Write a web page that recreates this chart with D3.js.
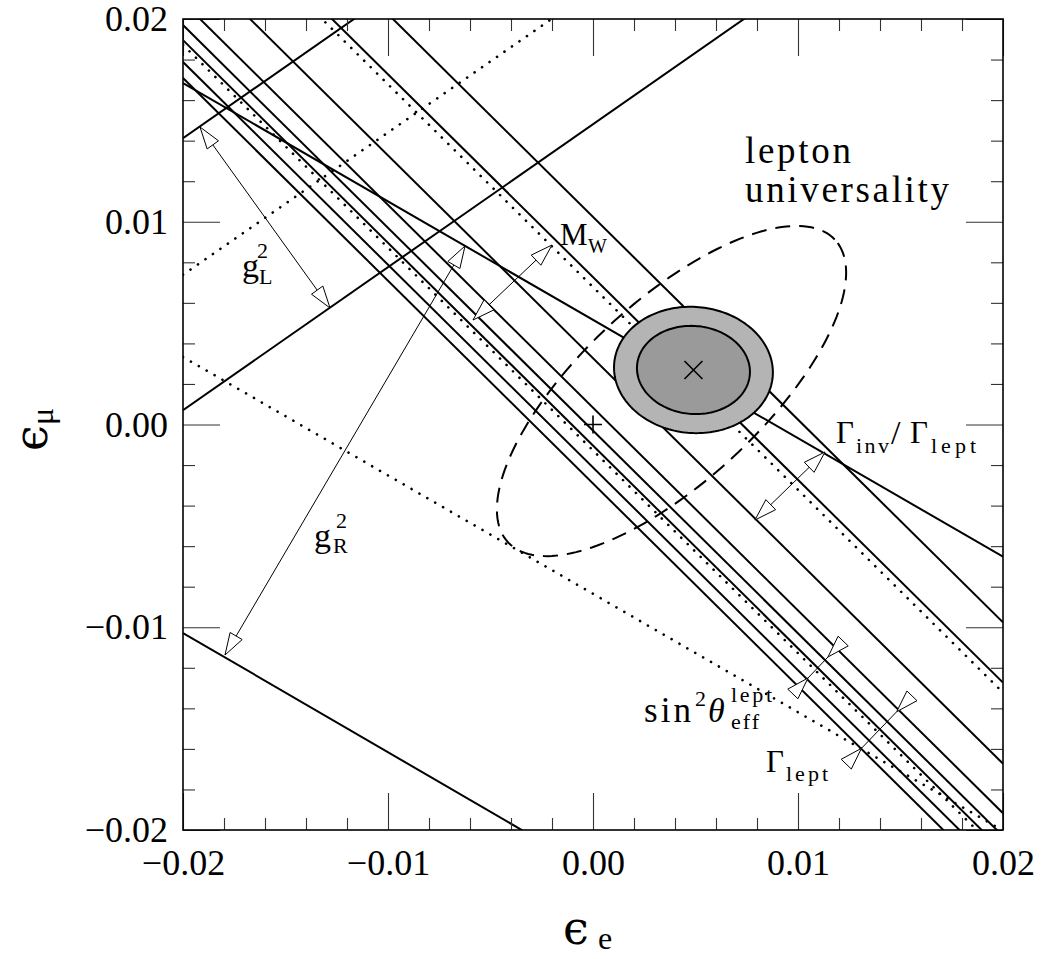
<!DOCTYPE html>
<html><head><meta charset="utf-8">
<script src="https://cdn.jsdelivr.net/npm/d3@7"></script>
<style>body{margin:0;background:#fff}</style>
</head><body>
<svg id="c" width="1044" height="959" xmlns="http://www.w3.org/2000/svg"></svg>
<script>
// ---------------- data ----------------
const xDomain = [-0.02, 0.02];
const yDomain = [-0.02, 0.02];
const majorTicks = [-0.02, -0.01, 0.00, 0.01, 0.02];
const minorTicks = [-0.018, -0.016, -0.014, -0.012, -0.008, -0.006, -0.004, -0.002,
                    0.002, 0.004, 0.006, 0.008, 0.012, 0.014, 0.016, 0.018];

// bands of constant eps_e + eps_mu = c (Gamma_lept, sin2theta, M_W, Gamma_inv/Gamma_lept)
const sumSolid  = [-0.00291, -0.00212, -0.00104, -0.0003, 0.00083, 0.00327, 0.00727, 0.01024];
const sumDotted = [-0.00128, 0.00678];

// other bands: eps_mu value at eps_e = -0.02 and at eps_e = +0.02
const gLSolid  = [[0.01412, 0.04232], [0.00071, 0.02891]];
const gLDotted = [[0.007385, 0.035453]];
const gRSolid  = [[0.016843, -0.006517], [-0.010284, -0.033804]];
const gRDotted = [[0.00333, -0.02003]];

// lepton universality contour: centre, semi-axes, orientation (deg)
const lepUniv = {cx: 0.00383, cy: 0.00165, a: 0.01092, b: 0.00443, angle: 43.2};
// fit contours
const fitOuter = {cx: 0.0049, cy: 0.00269, a: 0.00388, b: 0.00311, angle: -5};
const fitInner = {cx: 0.0049, cy: 0.00269, a: 0.00276, b: 0.00217, angle: -5};
const bestFit = [0.0049, 0.00269];
const smPoint = [0.0, 0.0];

// double arrows: [[e_e, e_mu], [e_e, e_mu]]
const outwardArrows = [
  [[-0.019171, 0.014673], [-0.012829, 0.005746]],   // g_L^2
  [[-0.006244, 0.008804], [-0.017951, -0.011369]],  // g_R^2
  [[-0.0020, 0.008853], [-0.005854, 0.005154]],     // M_W
  [[0.011317, -0.001356], [0.0079, -0.004711]]      // Gamma_inv/Gamma_lept
];
const inwardArrows = [
  [[0.010488, -0.012503], [0.011463, -0.011467]],   // sin^2 theta
  [[0.013098, -0.01597], [0.014815, -0.014165]]     // Gamma_lept
];

// ---------------- drawing ----------------
const svg = d3.select("#c");
const L = 183, R = 1003, T = 19, B = 830;
const x = d3.scaleLinear().domain(xDomain).range([L, R]);
const y = d3.scaleLinear().domain(yDomain).range([B, T]);
const FONT = "'Liberation Serif', 'DejaVu Serif', serif";
const GREEK = "'DejaVu Serif', serif";

svg.append("rect").attr("width", 1044).attr("height", 959).attr("fill", "#fff");
svg.append("defs").append("clipPath").attr("id", "clip")
  .append("rect").attr("x", L).attr("y", T).attr("width", R - L).attr("height", B - T);

const plot = svg.append("g").attr("clip-path", "url(#clip)");
const line = d3.line().x(d => x(d[0])).y(d => y(d[1]));

function drawLine(ends, dotted) {
  plot.append("path")
    .attr("d", line([[xDomain[0], ends[0]], [xDomain[1], ends[1]]]))
    .attr("fill", "none").attr("stroke", "#000")
    .attr("stroke-width", dotted ? 2.6 : 2)
    .attr("stroke-linecap", dotted ? "round" : "butt")
    .attr("stroke-dasharray", dotted ? "0.1 9" : null);
}
sumSolid.forEach(c => drawLine([c - xDomain[0], c - xDomain[1]], false));
sumDotted.forEach(c => drawLine([c - xDomain[0], c - xDomain[1]], true));
gLSolid.forEach(e => drawLine(e, false));
gLDotted.forEach(e => drawLine(e, true));
gRSolid.forEach(e => drawLine(e, false));
gRDotted.forEach(e => drawLine(e, true));

function ellipsePts(e) {
  const th = e.angle * Math.PI / 180;
  return d3.range(0, 361, 2).map(t => {
    const u = t * Math.PI / 180;
    return [e.cx + e.a * Math.cos(u) * Math.cos(th) - e.b * Math.sin(u) * Math.sin(th),
            e.cy + e.a * Math.cos(u) * Math.sin(th) + e.b * Math.sin(u) * Math.cos(th)];
  });
}
plot.append("path").attr("d", line(ellipsePts(lepUniv)) + "Z")
  .attr("fill", "none").attr("stroke", "#000").attr("stroke-width", 2)
  .attr("stroke-dasharray", "15 9");
plot.append("path").attr("d", line(ellipsePts(fitOuter)) + "Z")
  .attr("fill", "#b4b4b4").attr("stroke", "#000").attr("stroke-width", 2);
plot.append("path").attr("d", line(ellipsePts(fitInner)) + "Z")
  .attr("fill", "#9a9a9a").attr("stroke", "#000").attr("stroke-width", 2);

// markers
const m = 9;
plot.append("path")
  .attr("d", `M${x(bestFit[0]) - m},${y(bestFit[1]) - m}L${x(bestFit[0]) + m},${y(bestFit[1]) + m}` +
             `M${x(bestFit[0]) - m},${y(bestFit[1]) + m}L${x(bestFit[0]) + m},${y(bestFit[1]) - m}`)
  .attr("stroke", "#000").attr("stroke-width", 1.6);
plot.append("path")
  .attr("d", `M${x(smPoint[0]) - m},${y(smPoint[1])}H${x(smPoint[0]) + m}` +
             `M${x(smPoint[0])},${y(smPoint[1]) - m}V${y(smPoint[1]) + m}`)
  .attr("stroke", "#000").attr("stroke-width", 1.6);

// arrows
const HL = 22, HW = 7;
function head(tip, dir) {
  const [tx, ty] = tip, [ux, uy] = dir;
  const bx = tx + ux * HL, by = ty + uy * HL;
  return `M${tx},${ty}L${bx - uy * HW},${by + ux * HW}L${bx + uy * HW},${by - ux * HW}Z`;
}
function drawArrow(a, inward) {
  const p1 = [x(a[0][0]), y(a[0][1])], p2 = [x(a[1][0]), y(a[1][1])];
  const dx = p2[0] - p1[0], dy = p2[1] - p1[1], len = Math.hypot(dx, dy);
  const u = [dx / len, dy / len];
  svg.append("line").attr("x1", p1[0]).attr("y1", p1[1]).attr("x2", p2[0]).attr("y2", p2[1])
    .attr("stroke", "#000").attr("stroke-width", 1);
  const d1 = inward ? [-u[0], -u[1]] : u;
  const d2 = inward ? u : [-u[0], -u[1]];
  [[p1, d1], [p2, d2]].forEach(([p, d]) => {
    svg.append("path").attr("d", head(p, d)).attr("fill", "#fff")
      .attr("stroke", "#000").attr("stroke-width", 1).attr("stroke-linejoin", "miter");
  });
}
outwardArrows.forEach(a => drawArrow(a, false));
inwardArrows.forEach(a => drawArrow(a, true));

// axes
function styleAxis(g) {
  g.select(".domain").remove();
  g.selectAll(".tick line").attr("stroke", "#333").attr("stroke-width", 1.1);
  g.selectAll("text").attr("font-family", FONT).attr("font-size", 36).attr("fill", "#000");
}
function minorMajor(axisFn, tr, labels, pad) {
  svg.append("g").attr("transform", tr)
    .call(axisFn().tickValues(minorTicks).tickSizeInner(-12).tickSizeOuter(0).tickFormat(""))
    .call(styleAxis);
  const ax = axisFn().tickValues(majorTicks).tickSizeInner(-37).tickSizeOuter(0);
  if (labels) ax.tickPadding(pad).tickFormat(d3.format(".2f")); else ax.tickFormat("");
  svg.append("g").attr("transform", tr).call(ax).call(styleAxis);
}
minorMajor(() => d3.axisBottom(x), `translate(0,${B})`, true, 19);
minorMajor(() => d3.axisTop(x), `translate(0,${T})`, false);
minorMajor(() => d3.axisLeft(y), `translate(${L},0)`, true, 15);
minorMajor(() => d3.axisRight(y), `translate(${R},0)`, false);

svg.append("rect").attr("x", L).attr("y", T).attr("width", R - L).attr("height", B - T)
  .attr("fill", "none").attr("stroke", "#000").attr("stroke-width", 1.6);

// labels
function txt(g, s, px, py, size, opts = {}) {
  const t = g.append("text").attr("x", px).attr("y", py).attr("font-family", opts.family || FONT)
    .attr("font-size", size).attr("font-style", opts.italic ? "italic" : null)
    .attr("letter-spacing", opts.ls || null).attr("fill", "#000").text(s);
  if (opts.len) t.attr("textLength", opts.len).attr("lengthAdjust", "spacing");
  return t;
}
const lab = svg.append("g");
txt(lab, "lepton", 745, 163, 37, {len: 106});
txt(lab, "universality", 745, 202, 37, {len: 204});
txt(lab, "M", 560, 245, 31); txt(lab, "W", 588, 253, 20);
txt(lab, "g", 242, 277, 34); txt(lab, "2", 257, 258, 22); txt(lab, "L", 259, 284, 22);
txt(lab, "g", 314, 547, 34); txt(lab, "2", 336, 528, 22); txt(lab, "R", 333, 553, 22);
txt(lab, "Γ", 836, 443, 31); txt(lab, "inv", 856, 453, 22, {len: 33});
txt(lab, "/", 891, 444, 34); txt(lab, "Γ", 910, 443, 31); txt(lab, "lept", 931, 453, 22, {len: 45});
txt(lab, "sin", 644, 722, 35, {len: 47}); txt(lab, "2", 695, 706, 22);
txt(lab, "θ", 708, 722, 34, {italic: true});
txt(lab, "lept", 731, 702, 22, {len: 41}); txt(lab, "eff", 731, 729, 22, {len: 28});
txt(lab, "Γ", 766, 772, 31); txt(lab, "lept", 786, 781, 22, {len: 42});

// axis titles
txt(lab, "ϵ", 563, 944, 46, {family: GREEK});
txt(lab, "e", 598, 949, 32);
const yt = lab.append("g").attr("transform", "translate(47,451) rotate(-90)");
txt(yt, "ϵ", 0, 0, 46, {family: GREEK});
txt(yt, "μ", 26, 6, 32);
</script>
</body></html>
